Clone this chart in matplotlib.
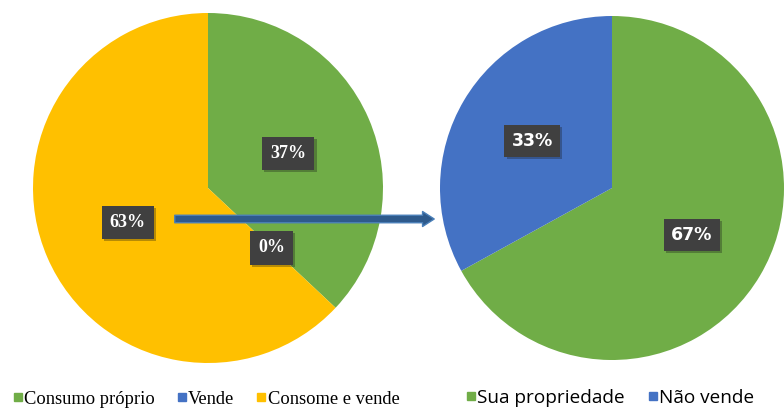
import matplotlib.pyplot as plt
import matplotlib.patheffects as pe
from matplotlib.patches import FancyArrowPatch
from matplotlib.lines import Line2D

# left pie: use of production
left_labels = ["Consumo próprio", "Vende", "Consome e vende"]
left_values = [37, 0, 63]
left_colors = ["#70AD47", "#4472C4", "#FFC000"]

# right pie: where it is sold
right_labels = ["Sua propriedade", "Não vende"]
right_values = [67, 33]
right_colors = ["#70AD47", "#4472C4"]

W, H = 784, 409


def px_axes(fig, cx, cy, r):
    """Axes whose square box is centred on pixel (cx, cy) with radius r."""
    return fig.add_axes([(cx - r) / W, (H - cy - r) / H, 2 * r / W, 2 * r / H])


def draw_pie(ax, values, colors, pctdist, font, size, pad):
    wedges, texts, autotexts = ax.pie(
        values, colors=colors, startangle=90, counterclock=False,
        autopct="%1.0f%%", pctdistance=pctdist, radius=1,
        wedgeprops=dict(linewidth=0))
    for t in autotexts:
        t.set_color("white")
        t.set_fontweight("bold")
        t.set_fontsize(size)
        t.set_family(font)
        t.set_bbox(dict(boxstyle="square,pad=%s" % pad, facecolor="#404040",
                        edgecolor="none"))
        t.get_bbox_patch().set_path_effects(
            [pe.SimplePatchShadow(offset=(1.5, -1.5), alpha=0.3), pe.Normal()])
    ax.set_xlim(-1, 1)
    ax.set_ylim(-1, 1)
    ax.set_aspect("equal")
    ax.axis("off")
    return wedges


fig = plt.figure(figsize=(W / 100, H / 100), dpi=100)

ax1 = px_axes(fig, 208, 188, 175)
draw_pie(ax1, left_values, left_colors, 0.5, "Liberation Serif", 13, 0.45)

ax2 = px_axes(fig, 612, 188, 172)
draw_pie(ax2, right_values, right_colors, 0.54, "DejaVu Sans", 12.5, 0.4)

# arrow linking the two charts
arrow = FancyArrowPatch((172 / W, 1 - 219 / H), (437 / W, 1 - 219 / H),
                        transform=fig.transFigure,
                        arrowstyle="simple,head_width=0.9,head_length=0.7,tail_width=0.45",
                        mutation_scale=12, facecolor="#2E5A8C",
                        edgecolor="#4A7FB8", linewidth=1, zorder=10)
fig.add_artist(arrow)


# legends
def handles(colors):
    return [Line2D([0], [0], marker="s", linestyle="", markersize=6,
                   markerfacecolor=c, markeredgecolor=c) for c in colors]


fig.legend(handles(left_colors), left_labels, loc="center left",
           bbox_to_anchor=(13 / W, 1 - 399 / H), ncol=3, frameon=False,
           borderpad=0, borderaxespad=0,
           handlelength=0.5, handletextpad=0.1, columnspacing=1.2,
           prop={"family": "Liberation Serif", "size": 13.3})
fig.legend(handles(right_colors), right_labels, loc="center left",
           bbox_to_anchor=(466 / W, 1 - 398 / H), ncol=2, frameon=False,
           borderpad=0, borderaxespad=0,
           handlelength=0.5, handletextpad=0.1, columnspacing=1.2,
           prop={"family": "Open Sans", "size": 13.7})

fig.savefig("out.png", dpi=100, facecolor="white")
